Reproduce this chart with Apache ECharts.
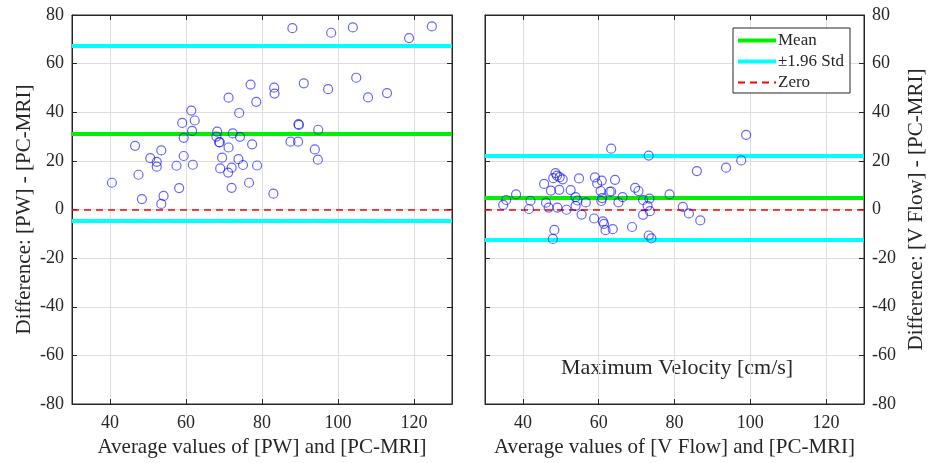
<!DOCTYPE html>
<html>
<head>
<meta charset="utf-8">
<script src="https://cdn.jsdelivr.net/npm/echarts@6/dist/echarts.min.js"></script>
<style>html,body{margin:0;padding:0;background:#fff;}#c{width:929px;height:463px;}</style>
</head>
<body>
<div id="c"></div>
<script>
// ---- data ----
var xTicks = [40, 60, 80, 100, 120];
var yTicks = [-80, -60, -40, -20, 0, 20, 40, 60, 80];

var pwX = [40.5,46.6,47.5,48.4,50.6,52.3,52.3,53.5,54.1,53.5,57.5,58.2,59.0,59.4,59.4,61.4,62.3,61.6,61.8,68.2,68.0,68.7,68.9,71.2,71.2,69.5,69.0,71.1,72.0,72.0,74.0,72.3,74.2,73.8,75.0,76.6,77.4,77.0,78.5,78.7,88.0,98.2,103.9,118.7,124.7,83.2,83.3,91.0,97.4,104.8,107.9,112.9,89.6,89.7,94.8,87.5,89.5,93.9,94.7,83.0];
var pwY = [11.0,26.2,14.3,4.3,21.1,19.6,17.6,24.3,5.6,2.3,18.0,8.8,35.6,29.5,22.0,40.7,36.6,32.3,18.4,32.0,30.0,27.7,27.6,46.0,25.5,21.3,16.9,15.2,17.2,8.9,39.7,31.3,29.9,20.7,18.3,11.0,26.8,51.4,44.3,18.1,74.6,72.7,74.9,70.5,75.3,50.1,47.7,51.9,49.5,54.2,46.1,47.9,35.1,34.8,32.8,27.9,27.9,24.7,20.5,6.5];
var pwMean = 31.3, pwUpper = 67.3, pwLower = -4.6;

var vfX = [34.8,35.6,38.2,42.0,41.6,45.6,46.1,46.8,47.4,48.3,47.9,48.0,48.6,49.0,49.7,50.5,49.6,49.1,51.5,52.6,53.9,54.4,53.9,54.8,55.5,56.6,58.8,59.0,59.6,60.8,60.5,60.9,60.7,61.1,61.4,61.8,62.9,63.3,63.3,63.7,64.3,65.2,66.3,68.8,69.6,70.5,71.7,72.9,73.5,71.7,73.4,73.2,73.2,73.9,78.7,82.2,83.8,86.8,85.9,93.6,97.6,98.9];
var vfY = [1.9,3.9,6.2,3.6,0.2,10.5,2.8,0.8,7.8,-8.4,-12.1,12.9,15.0,13.9,13.3,12.4,8.1,0.8,-0.1,8.0,5.1,3.7,1.5,12.8,-2.1,2.9,-3.7,13.2,10.7,11.9,7.6,4.7,3.5,-4.9,-5.9,-8.5,7.3,7.4,25.0,-8.1,12.2,2.9,5.1,-7.2,8.9,7.6,3.9,1.5,-0.7,-2.2,4.5,22.2,-10.7,-11.9,6.2,1.1,-1.6,-4.5,15.8,17.2,20.2,30.7];
var vfMean = 4.8, vfUpper = 22.2, vfLower = -12.5;

var xNames = ['Average values of [PW] and [PC-MRI]', 'Average values of [V Flow] and [PC-MRI]'];
var yNames = ['Difference: [PW] - [PC-MRI]', 'Difference: [V Flow] - [PC-MRI]'];
var legendNames = ['Mean', '\u00b11.96 Std', 'Zero'];
var panelText = 'Maximum Velocity [cm/s]';

// ---- chart ----
var FONT = '"Liberation Serif", "Times New Roman", serif';
var AX = '#262626';
var GRIDC = '#dedede';
var THICK_ICON = 'path://M0,0L38,0L38,4L0,4Z';

function pairs(xs, ys){ return xs.map(function(x,i){ return [x, ys[i]]; }); }

function xAxis(i){
  return {
    type: 'value', gridIndex: i, min: 30, max: 130, position: 'bottom',
    name: xNames[i], nameLocation: 'middle', nameGap: 32,
    nameTextStyle: {fontFamily: FONT, fontSize: 21, color: '#262626'},
    axisLine: {show: true, onZero: false, lineStyle: {color: AX, width: 1}},
    axisTick: {show: true, inside: true, length: 5, customValues: xTicks, lineStyle: {color: AX}},
    axisLabel: {customValues: xTicks, fontFamily: FONT, fontSize: 18, color: '#262626', margin: 10},
    splitLine: {show: true, lineStyle: {color: GRIDC, width: 1}}
  };
}
function xAxisTop(i){
  return {
    type: 'value', gridIndex: i, min: 30, max: 130, position: 'top',
    axisLine: {show: true, onZero: false, lineStyle: {color: AX, width: 1}},
    axisTick: {show: true, inside: true, length: 5, customValues: xTicks, lineStyle: {color: AX}},
    axisLabel: {show: false}, splitLine: {show: false}
  };
}
function yAxis(i){
  return {
    type: 'value', gridIndex: i, min: -80, max: 80, interval: 20,
    position: i === 0 ? 'left' : 'right',
    name: yNames[i], nameLocation: 'middle', nameRotate: 90, nameGap: i === 0 ? 37 : 42,
    nameTextStyle: {fontFamily: FONT, fontSize: 21, color: '#262626'},
    axisLine: {show: true, onZero: false, lineStyle: {color: AX, width: 1}},
    axisTick: {show: true, inside: true, length: 5, lineStyle: {color: AX}},
    axisLabel: {fontFamily: FONT, fontSize: 18, color: '#262626', margin: 8},
    splitLine: {show: true, lineStyle: {color: GRIDC, width: 1}}
  };
}
function yAxisOther(i){
  return {
    type: 'value', gridIndex: i, min: -80, max: 80, interval: 20,
    position: i === 0 ? 'right' : 'left',
    axisLine: {show: true, onZero: false, lineStyle: {color: AX, width: 1}},
    axisTick: {show: true, inside: true, length: 5, lineStyle: {color: AX}},
    axisLabel: {show: false}, splitLine: {show: false}
  };
}
function lineSeries(i, name, val, style){
  return {
    type: 'line', name: name, xAxisIndex: i, yAxisIndex: i, data: [],
    symbol: 'none', lineStyle: style, itemStyle: {color: style.color}, z: 3,
    markLine: {silent: true, symbol: 'none', label: {show: false}, animation: false,
      lineStyle: style, data: [{yAxis: val}]}
  };
}
var meanStyle = {color: '#00f000', width: 4, type: 'solid'};
var stdStyle = {color: '#00ffff', width: 4, type: 'solid'};
var zeroStyle = {color: '#ff0000', width: 1.5, type: [7, 5]};

function scatter(i, xs, ys){
  return {
    type: 'scatter', xAxisIndex: i, yAxisIndex: i, data: pairs(xs, ys),
    symbol: 'circle', symbolSize: 9, z: 5,
    itemStyle: {color: 'rgba(0,0,0,0)', borderColor: 'rgba(0,0,255,0.75)', borderWidth: 1.2},
    emphasis: {disabled: true}
  };
}

var chart = echarts.init(document.getElementById('c'), null, {renderer: 'canvas'});
chart.setOption({
  animation: false,
  backgroundColor: '#ffffff',
  grid: [
    {left: 72, right: 477, top: 15, bottom: 59, show: true, borderColor: AX, borderWidth: 1, containLabel: false},
    {left: 485, right: 65, top: 15, bottom: 59, show: true, borderColor: AX, borderWidth: 1, containLabel: false}
  ],
  xAxis: [xAxis(0), xAxis(1), xAxisTop(0), xAxisTop(1)],
  yAxis: [yAxis(0), yAxis(1), yAxisOther(0), yAxisOther(1)],
  legend: {
    data: [
      {name: legendNames[0], icon: THICK_ICON, itemStyle: {color: meanStyle.color, opacity: 1, borderWidth: 0}},
      {name: legendNames[1], icon: THICK_ICON, itemStyle: {color: stdStyle.color, opacity: 1, borderWidth: 0}},
      {name: legendNames[2]}
    ],
    orient: 'vertical', left: 733, top: 28,
    padding: [4, 6, 2, 4], itemGap: 4, itemWidth: 38, itemHeight: 12,
    borderColor: AX, borderWidth: 1, backgroundColor: '#fff',
    selectedMode: false,
    itemStyle: {opacity: 0},
    textStyle: {fontFamily: FONT, fontSize: 17, color: '#262626', padding: [0,0,0,-3]}
  },
  graphic: [{
    type: 'text', left: 561, top: 357,
    style: {text: panelText, font: '22px ' + FONT, fill: '#262626'}
  }],
  series: [
    lineSeries(0, legendNames[2], 0, zeroStyle),
    lineSeries(0, legendNames[0], pwMean, meanStyle),
    lineSeries(0, legendNames[1], pwUpper, stdStyle),
    lineSeries(0, legendNames[1], pwLower, stdStyle),
    scatter(0, pwX, pwY),
    lineSeries(1, legendNames[2], 0, zeroStyle),
    lineSeries(1, legendNames[0], vfMean, meanStyle),
    lineSeries(1, legendNames[1], vfUpper, stdStyle),
    lineSeries(1, legendNames[1], vfLower, stdStyle),
    scatter(1, vfX, vfY)
  ]
});
</script>
</body>
</html>
